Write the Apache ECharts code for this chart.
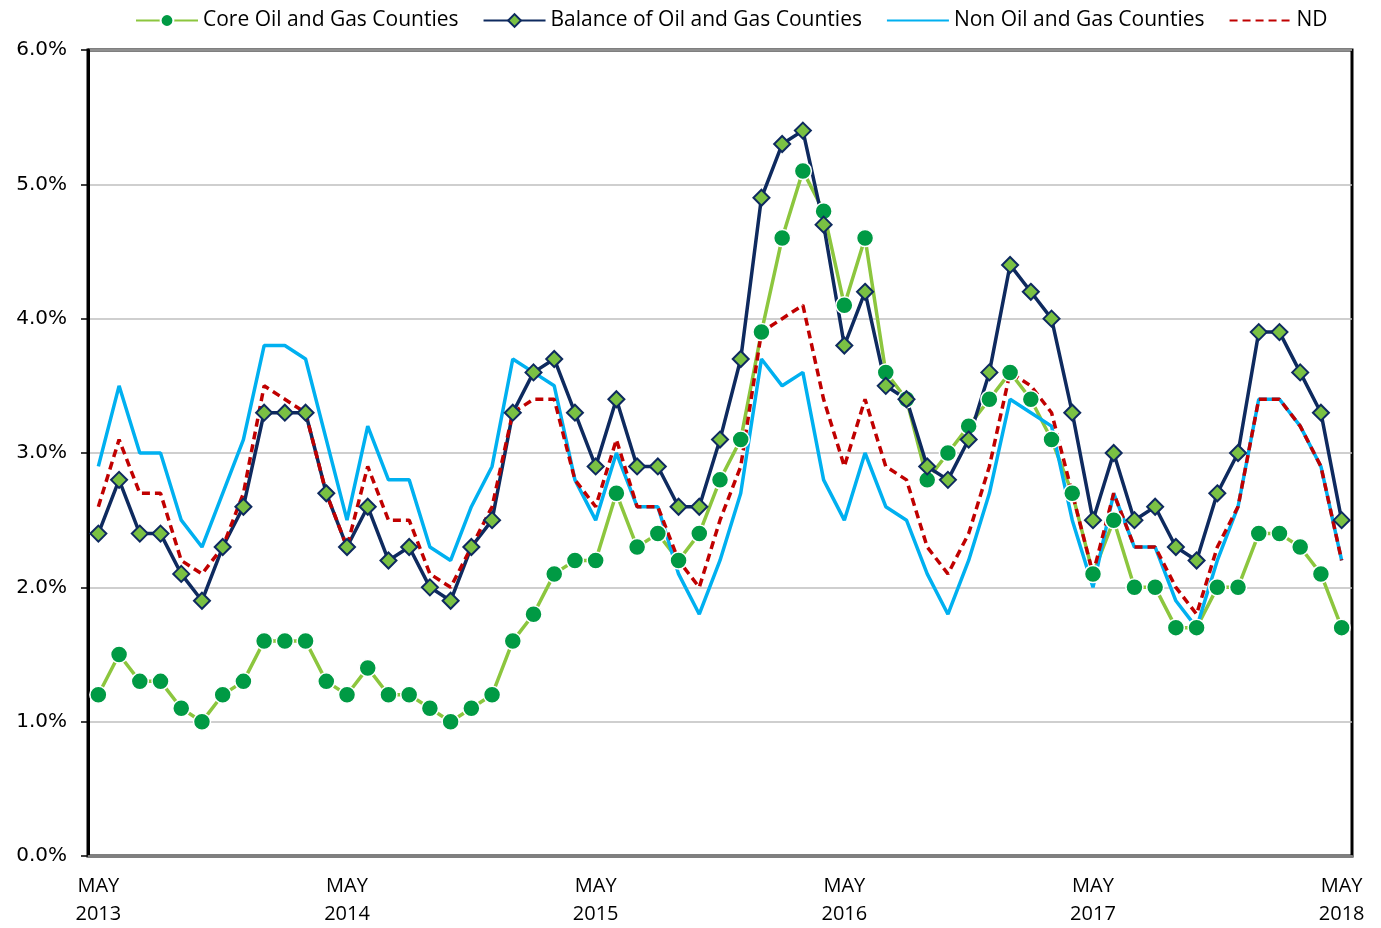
<!DOCTYPE html>
<html>
<head>
<meta charset="utf-8">
<script src="https://cdn.jsdelivr.net/npm/echarts@6/dist/echarts.min.js"></script>
<style>
html,body{margin:0;padding:0;background:#fff;overflow:hidden;}
#chart{width:1381px;height:928px;}
</style>
</head>
<body>
<div id="chart"></div>
<script>
var months = [
 'MAY 2013','JUN 2013','JUL 2013','AUG 2013','SEP 2013','OCT 2013','NOV 2013','DEC 2013',
 'JAN 2014','FEB 2014','MAR 2014','APR 2014','MAY 2014','JUN 2014','JUL 2014','AUG 2014','SEP 2014','OCT 2014','NOV 2014','DEC 2014',
 'JAN 2015','FEB 2015','MAR 2015','APR 2015','MAY 2015','JUN 2015','JUL 2015','AUG 2015','SEP 2015','OCT 2015','NOV 2015','DEC 2015',
 'JAN 2016','FEB 2016','MAR 2016','APR 2016','MAY 2016','JUN 2016','JUL 2016','AUG 2016','SEP 2016','OCT 2016','NOV 2016','DEC 2016',
 'JAN 2017','FEB 2017','MAR 2017','APR 2017','MAY 2017','JUN 2017','JUL 2017','AUG 2017','SEP 2017','OCT 2017','NOV 2017','DEC 2017',
 'JAN 2018','FEB 2018','MAR 2018','APR 2018','MAY 2018'
];
var coreOilGas = [
 1.2,1.5,1.3,1.3,1.1,1.0,1.2,1.3,
 1.6,1.6,1.6,1.3,1.2,1.4,1.2,1.2,1.1,1.0,1.1,1.2,
 1.6,1.8,2.1,2.2,2.2,2.7,2.3,2.4,2.2,2.4,2.8,3.1,
 3.9,4.6,5.1,4.8,4.1,4.6,3.6,3.4,2.8,3.0,3.2,3.4,
 3.6,3.4,3.1,2.7,2.1,2.5,2.0,2.0,1.7,1.7,2.0,2.0,
 2.4,2.4,2.3,2.1,1.7
];
var balanceOilGas = [
 2.4,2.8,2.4,2.4,2.1,1.9,2.3,2.6,
 3.3,3.3,3.3,2.7,2.3,2.6,2.2,2.3,2.0,1.9,2.3,2.5,
 3.3,3.6,3.7,3.3,2.9,3.4,2.9,2.9,2.6,2.6,3.1,3.7,
 4.9,5.3,5.4,4.7,3.8,4.2,3.5,3.4,2.9,2.8,3.1,3.6,
 4.4,4.2,4.0,3.3,2.5,3.0,2.5,2.6,2.3,2.2,2.7,3.0,
 3.9,3.9,3.6,3.3,2.5
];
var nonOilGas = [
 2.9,3.5,3.0,3.0,2.5,2.3,2.7,3.1,
 3.8,3.8,3.7,3.1,2.5,3.2,2.8,2.8,2.3,2.2,2.6,2.9,
 3.7,3.6,3.5,2.8,2.5,3.0,2.6,2.6,2.1,1.8,2.2,2.7,
 3.7,3.5,3.6,2.8,2.5,3.0,2.6,2.5,2.1,1.8,2.2,2.7,
 3.4,3.3,3.2,2.5,2.0,2.7,2.3,2.3,1.9,1.7,2.2,2.6,
 3.4,3.4,3.2,2.9,2.2
];
var ndState = [
 2.6,3.1,2.7,2.7,2.2,2.1,2.3,2.7,
 3.5,3.4,3.3,2.7,2.3,2.9,2.5,2.5,2.1,2.0,2.3,2.6,
 3.3,3.4,3.4,2.8,2.6,3.1,2.6,2.6,2.2,2.0,2.5,2.9,
 3.9,4.0,4.1,3.4,2.9,3.4,2.9,2.8,2.3,2.1,2.4,2.9,
 3.6,3.5,3.3,2.7,2.1,2.7,2.3,2.3,2.0,1.8,2.3,2.6,
 3.4,3.4,3.2,2.9,2.2
];
var seriesNames = ['Core Oil and Gas Counties','Balance of Oil and Gas Counties','Non Oil and Gas Counties','ND'];
var yTicks = [0,1,2,3,4,5,6];

var FONT = '"Open Sans", Lato, sans-serif';
var NUMFONT = '"DejaVu Sans", "Open Sans", sans-serif';
var chart = echarts.init(document.getElementById('chart'), null, {renderer:'canvas'});
chart.setOption({
  animation:false,
  backgroundColor:'#fff',
  textStyle:{fontFamily:FONT},
  legend:{
    top:5, left:130,
    itemWidth:62, itemHeight:16, itemGap:24,
    textStyle:{fontSize:21, color:'#000', fontFamily:FONT},
    data:[
      {name:seriesNames[0]},
      {name:seriesNames[1]},
      {name:seriesNames[2], itemStyle:{color:'rgba(0,0,0,0)', borderWidth:0}},
      {name:seriesNames[3], itemStyle:{color:'rgba(0,0,0,0)', borderWidth:0}}
    ]
  },
  grid:{left:88, right:29, top:50, bottom:68, show:true, borderColor:'#000', borderWidth:3},
  xAxis:{
    type:'category', data:months, boundaryGap:true,
    axisLine:{show:true, lineStyle:{color:'#7f7f7f', width:3}},
    axisTick:{show:false},
    axisLabel:{
      interval:function(i){return i%12===0;},
      formatter:function(v){return v.replace(' ','\n');},
      color:'#000', fontSize:20, lineHeight:28, margin:16, fontFamily:FONT
    },
    splitLine:{show:false}
  },
  yAxis:{
    type:'value', min:yTicks[0], max:yTicks[yTicks.length-1], interval:1,
    axisLine:{show:true, lineStyle:{color:'#000', width:3}},
    axisTick:{show:true, inside:false, length:7, lineStyle:{color:'#000', width:1.5}},
    axisLabel:{formatter:function(v){return v.toFixed(1)+'%';}, color:'#000', fontSize:20, margin:21, fontFamily:NUMFONT},
    splitLine:{show:true, lineStyle:{color:'#bfbfbf', width:1.5}}
  },
  series:[
    {name:seriesNames[0], type:'line', data:coreOilGas,
     symbol:'circle', symbolSize:17, showAllSymbol:true,
     lineStyle:{color:'#8cc63e', width:3.5},
     itemStyle:{color:'#009a44', borderColor:'#ffffff', borderWidth:1.5}},
    {name:seriesNames[1], type:'line', data:balanceOilGas,
     symbol:'diamond', symbolSize:16, showAllSymbol:true,
     lineStyle:{color:'#0e2a5f', width:3.5},
     itemStyle:{color:'#7ac143', borderColor:'#0e2a5f', borderWidth:2}},
    {name:seriesNames[2], type:'line', data:nonOilGas,
     symbol:'none',
     lineStyle:{color:'#00b0f0', width:3.5},
     itemStyle:{color:'#00b0f0'}},
    {name:seriesNames[3], type:'line', data:ndState,
     symbol:'none',
     lineStyle:{color:'#c00000', width:3.5, type:[8,5]},
     itemStyle:{color:'#c00000'}}
  ]
});
</script>
</body>
</html>
